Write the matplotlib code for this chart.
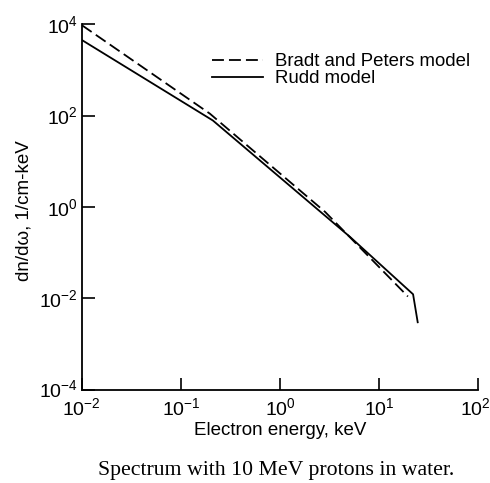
import matplotlib
matplotlib.use("Agg")
import matplotlib.pyplot as plt
import matplotlib.transforms as mtransforms
from matplotlib.ticker import FixedLocator, NullLocator

plt.rcParams['font.family'] = ['Liberation Sans', 'DejaVu Sans']
plt.rcParams['mathtext.fontset'] = 'custom'
plt.rcParams['mathtext.rm'] = 'Liberation Sans'
plt.rcParams['mathtext.it'] = 'Liberation Sans'

# Data
bp_energy = [0.01, 0.196, 2.85, 19.5]
bp_dn = [9500, 110, 0.78, 0.011]
rudd_energy = [0.01, 0.21, 5.1, 22.0, 24.5]
rudd_dn = [4500, 78, 0.22, 0.0123, 0.003]

x_ticks = [1e-2, 1e-1, 1e0, 1e1, 1e2]
x_labels = [r'$10^{-2}$', r'$10^{-1}$', r'$10^{0}$', r'$10^{1}$', r'$10^{2}$']
y_ticks = [1e-4, 1e-2, 1e0, 1e2, 1e4]
y_labels = [r'$10^{-4}$', r'$10^{-2}$', r'$10^{0}$', r'$10^{2}$', r'$10^{4}$']

fig = plt.figure(figsize=(4.9, 4.83), dpi=100)
ax = fig.add_axes([0.167, 0.193, 0.809, 0.757])

ax.plot(bp_energy, bp_dn, color='black', lw=1.3, linestyle=(0, (6.6, 2.8)),
        label='Bradt and Peters model')
ax.plot(rudd_energy, rudd_dn, color='black', lw=1.3, label='Rudd model')

ax.set_xscale('log')
ax.set_yscale('log')
ax.set_xlim(1e-2, 1e2)
ax.set_ylim(1e-4, 1e4)
ax.xaxis.set_major_locator(FixedLocator(x_ticks))
ax.yaxis.set_major_locator(FixedLocator(y_ticks))
ax.set_xticklabels(x_labels)
ax.set_yticklabels(y_labels)
ax.xaxis.set_minor_locator(NullLocator())
ax.yaxis.set_minor_locator(NullLocator())
ax.tick_params(direction='in', length=9, width=1.2, labelsize=14)
ax.tick_params(axis='x', pad=5.5)
ax.tick_params(axis='y', pad=3)
for s in ['top', 'right']:
    ax.spines[s].set_visible(False)
for s in ['left', 'bottom']:
    ax.spines[s].set_linewidth(1.3)

# nudge the last x tick label so it stays inside the figure
last = ax.get_xticklabels()[-1]
last.set_transform(last.get_transform() +
                   mtransforms.ScaledTranslation(-3 / 100, 0, fig.dpi_scale_trans))
# nudge the lowest y tick label up a little
first_y = ax.get_yticklabels()[0]
first_y.set_transform(first_y.get_transform() +
                      mtransforms.ScaledTranslation(0, 2 / 100, fig.dpi_scale_trans))

ax.set_xlabel('Electron energy, keV', fontsize=13.5, labelpad=2)
ax.set_ylabel('dn/dω, 1/cm-keV', fontsize=13.5)
ax.yaxis.set_label_coords(-0.125, 0.49)

leg = ax.legend(loc='upper left', bbox_to_anchor=(0.328, 0.921), frameon=False,
                fontsize=13.4, handlelength=2.74, handletextpad=0.65,
                labelspacing=0.0, borderaxespad=0, borderpad=0)

fig.text(0.563, 0.025, 'Spectrum with 10 MeV protons in water.', ha='center',
         va='center', fontsize=15.7, family=['Liberation Serif'])

fig.savefig('out.png', dpi=100)
